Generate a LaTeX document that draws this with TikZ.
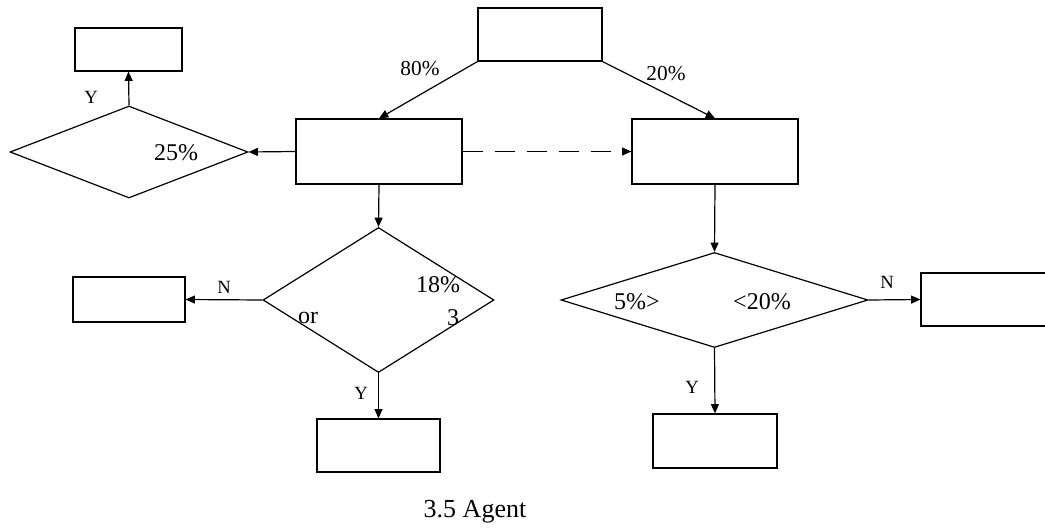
\documentclass[tikz,border=0pt]{standalone}
\usepackage{fontspec}
\setmainfont{Liberation Serif}
\usetikzlibrary{shapes.geometric,arrows.meta}

\begin{document}
\begin{tikzpicture}[x=0.75pt,y=-0.75pt,
  line width=0.9pt,
  box/.style={draw, rectangle, inner sep=0pt},
  decision/.style={draw, diamond, inner sep=0pt, aspect=1},
  flow/.style={-{Triangle[length=7pt,width=6pt]}},
  lbl/.style={inner sep=0pt, font=\fontsize{18}{21}\selectfont},
  pct/.style={inner sep=0pt, font=\fontsize{16}{19}\selectfont},
  yn/.style={inner sep=0pt, font=\fontsize{14}{16}\selectfont},
]
\clip (0,0) rectangle (1045,531);

% process boxes
\node[box, minimum width=93pt,  minimum height=39.75pt] (top)  at (540,34.5)   {};
\node[box, minimum width=80.25pt, minimum height=32.25pt] (tl) at (128.5,49.5) {};
\node[box, minimum width=124.5pt, minimum height=48.75pt] (lm) at (379,151.5)  {};
\node[box, minimum width=124.5pt, minimum height=48.75pt] (rm) at (715,151.5)  {};
\node[box, minimum width=84pt,  minimum height=33.75pt] (nl)  at (129,299.5)   {};
\node[box, minimum width=92.25pt, minimum height=39.75pt] (yl) at (378.5,445.5) {};
\node[box, minimum width=106.5pt, minimum height=39.75pt] (nr) at (992,299.5)  {};
\node[box, minimum width=93pt,  minimum height=40.5pt] (yr)   at (715,441)     {};

% decisions
\node[decision, minimum width=178.5pt, minimum height=69pt]    (d1) at (129,152)   {};
\node[decision, minimum width=173.25pt, minimum height=108.75pt] (d2) at (378.5,300) {};
\node[decision, minimum width=230.25pt, minimum height=71.25pt]  (d3) at (714.5,300) {};

% connectors
\draw[flow] (top.south west) -- (lm.north);
\draw[flow] (top.south east) -- (rm.north);
\draw[flow] (lm.west) -- (d1.east);
\draw[flow] (d1.north) -- (tl.south);
\draw[flow, dash pattern=on 15pt off 9pt] (lm.east) -- (rm.west);
\draw[flow] (lm.south) -- (d2.north);
\draw[flow] (d2.west) -- (nl.east);
\draw[flow] (d2.south) -- (yl.north);
\draw[flow] (rm.south) -- (d3.north);
\draw[flow] (d3.east) -- (nr.west);
\draw[flow] (d3.south) -- (yr.north);

% labels
\node[pct] (p80) at (420,69) {80\%};
\node[pct] (p20) at (666,74) {20\%};
\node[yn]  (y1)  at (91,97)  {Y};
\node[lbl] (p25) at (176,153) {25\%};
\node[yn]  (n1)  at (224,287) {N};
\node[lbl] (p18) at (438,285) {18\%};
\node[lbl] (t3)  at (453,318) {3};
\node[lbl] (tor) at (308,318) {or};
\node[yn]  (y2)  at (361,393) {Y};
\node[lbl] (p5)  at (637,302) {5\%>};
\node[lbl] (p20b) at (762,302) {<20\%};
\node[yn]  (n2)  at (887,282) {N};
\node[yn]  (y3)  at (692,387) {Y};

% caption
\node[inner sep=0pt, font=\fontsize{19.5}{23}\selectfont] (cap) at (475,512) {3.5 Agent};
\end{tikzpicture}
\end{document}
